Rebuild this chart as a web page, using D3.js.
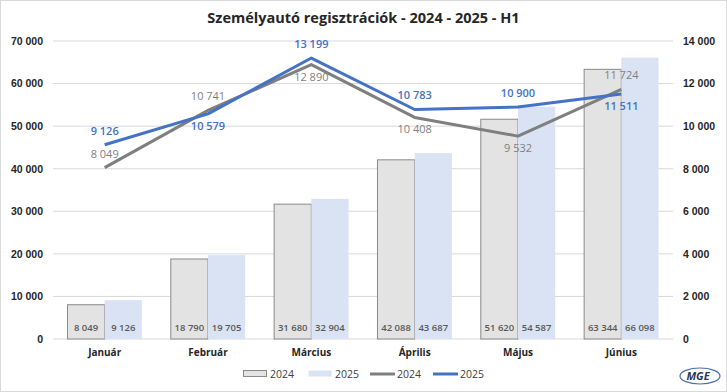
<!DOCTYPE html>
<html>
<head>
<meta charset="utf-8">
<script src="https://cdn.jsdelivr.net/npm/d3@7"></script>
<style>
  body { margin: 0; background: #fff; }
  svg { font-family: "Open Sans", "DejaVu Sans", sans-serif; }
</style>
</head>
<body>
<div id="viz"></div>
<script>
const months = ['Január', 'Február', 'Március', 'Április', 'Május', 'Június'];
const years = ['2024', '2025'];
const cum2024 = [8049, 18790, 31680, 42088, 51620, 63344];
const cum2025 = [9126, 19705, 32904, 43687, 54587, 66098];
const monthly2024 = [8049, 10741, 12890, 10408, 9532, 11724];
const monthly2025 = [9126, 10579, 13199, 10783, 10900, 11511];
// which side the line labels sit on (-1 above, 1 below)
const labelPos2024 = [-1, -1, 1, 1, 1, -1];
const labelPos2025 = [-1, 1, -1, -1, -1, 1];
const leftTicks = [0, 10000, 20000, 30000, 40000, 50000, 60000, 70000];
const rightTicks = [0, 2000, 4000, 6000, 8000, 10000, 12000, 14000];

const width = 727, height = 392;
const margin = {top: 41, right: 54, bottom: 53, left: 53};
const fmt = v => d3.format(',')(v).replace(/,/g, ' ');

const svg = d3.select('#viz').append('svg')
    .attr('width', width)
    .attr('height', height);

svg.append('rect')
    .attr('x', 0.5).attr('y', 0.5)
    .attr('width', width - 1).attr('height', height - 1)
    .attr('fill', '#fff')
    .attr('stroke', '#d9d9d9');

let x = d3.scaleBand()
    .domain(months)
    .range([margin.left, width - margin.right])
    .paddingInner(0.28)
    .paddingOuter(0.14);

let xSub = d3.scaleBand()
    .domain(years)
    .range([0, x.bandwidth()]);

let yLeft = d3.scaleLinear()
    .domain([0, 70000])
    .range([height - margin.bottom, margin.top]);

let yRight = d3.scaleLinear()
    .domain([0, 14000])
    .range([height - margin.bottom, margin.top]);

// grid
svg.append('g')
    .selectAll('line').data(leftTicks)
    .enter().append('line')
    .attr('x1', margin.left).attr('x2', width - margin.right)
    .attr('y1', d => yLeft(d)).attr('y2', d => yLeft(d))
    .attr('stroke', '#d9d9d9')
    .attr('stroke-width', 1);

// left axis
let leftAxis = svg.append('g')
    .attr('transform', `translate(${margin.left},0)`)
    .call(d3.axisLeft(yLeft).tickValues(leftTicks).tickFormat(fmt).tickSize(0).tickPadding(10));
leftAxis.select('.domain').remove();
leftAxis.selectAll('text')
    .style('font-size', '10.5px').style('font-weight', '600').attr('fill', '#262626');

// right axis
let rightAxis = svg.append('g')
    .attr('transform', `translate(${width - margin.right},0)`)
    .call(d3.axisRight(yRight).tickValues(rightTicks).tickFormat(fmt).tickSize(0).tickPadding(10));
rightAxis.select('.domain').remove();
rightAxis.selectAll('text')
    .style('font-size', '10.5px').style('font-weight', '600').attr('fill', '#262626');

// bars
const barData = months.map((m, i) => [
    {month: m, year: '2024', value: cum2024[i]},
    {month: m, year: '2025', value: cum2025[i]}
]).flat();

svg.append('g')
    .selectAll('rect').data(barData)
    .enter().append('rect')
    .attr('x', d => x(d.month) + xSub(d.year))
    .attr('y', d => yLeft(d.value))
    .attr('width', xSub.bandwidth())
    .attr('height', d => yLeft(0) - yLeft(d.value))
    .attr('fill', d => d.year === '2024' ? '#e3e3e3' : '#dae3f3')
    .attr('stroke', d => d.year === '2024' ? '#8a8a8a' : 'none')
    .attr('stroke-width', 1);

svg.append('g')
    .selectAll('text').data(barData)
    .enter().append('text')
    .attr('x', d => x(d.month) + xSub(d.year) + xSub.bandwidth() / 2)
    .attr('y', yLeft(0) - 8)
    .attr('text-anchor', 'middle')
    .style('font-size', '9.5px')
    .style('font-weight', '600')
    .attr('fill', '#595959')
    .text(d => fmt(d.value));

// x axis labels
svg.append('g')
    .selectAll('text').data(months)
    .enter().append('text')
    .attr('x', d => x(d) + x.bandwidth() / 2)
    .attr('y', yLeft(0) + 17)
    .attr('text-anchor', 'middle')
    .style('font-size', '10px')
    .style('font-weight', 'bold')
    .attr('fill', '#262626')
    .text(d => d);

// lines
const cx = m => x(m) + x.bandwidth() / 2;
const line = d3.line()
    .x((d, i) => cx(months[i]))
    .y(d => yRight(d));

const series = [
    {values: monthly2024, color: '#7f7f7f', pos: labelPos2024, weight: 'normal'},
    {values: monthly2025, color: '#4472c4', pos: labelPos2025, weight: '600'}
];

series.forEach(s => {
    svg.append('path')
        .datum(s.values)
        .attr('d', line)
        .attr('fill', 'none')
        .attr('stroke', s.color)
        .attr('stroke-width', 3)
        .attr('stroke-linejoin', 'round');

    svg.append('g')
        .selectAll('text').data(s.values)
        .enter().append('text')
        .attr('x', (d, i) => cx(months[i]))
        .attr('y', (d, i) => yRight(d) + (s.pos[i] < 0 ? -10 : 16))
        .attr('text-anchor', 'middle')
        .style('font-size', '11px')
        .style('font-weight', s.weight)
        .attr('fill', s.color)
        .text(d => fmt(d));
});

// title
svg.append('text')
    .attr('x', width / 2)
    .attr('y', 23)
    .attr('text-anchor', 'middle')
    .style('font-family', '"Liberation Sans Narrow", "Open Sans", sans-serif')
    .style('font-size', '14.5px')
    .style('font-weight', 'bold')
    .attr('fill', '#262626')
    .text('Személyautó regisztrációk - 2024 - 2025 - H1');

// legend
const legendItems = [
    {label: '2024', type: 'bar', fill: '#e3e3e3', stroke: '#8a8a8a', x: 243},
    {label: '2025', type: 'bar', fill: '#dae3f3', stroke: 'none', x: 308},
    {label: '2024', type: 'line', stroke: '#7f7f7f', x: 370},
    {label: '2025', type: 'line', stroke: '#4472c4', x: 433}
];
const ly = 374;
let legend = svg.append('g').selectAll('g').data(legendItems)
    .enter().append('g')
    .attr('transform', d => `translate(${d.x},${ly})`);

legend.filter(d => d.type === 'bar').append('rect')
    .attr('x', 0.5).attr('y', -3.5)
    .attr('width', 23).attr('height', 6)
    .attr('fill', d => d.fill)
    .attr('stroke', d => d.stroke);

legend.filter(d => d.type === 'line').append('line')
    .attr('x1', 0).attr('x2', 25)
    .attr('y1', 0).attr('y2', 0)
    .attr('stroke', d => d.stroke)
    .attr('stroke-width', 3);

legend.append('text')
    .attr('x', 27)
    .attr('y', 4)
    .style('font-size', '10.5px')
    .attr('fill', '#404040')
    .text(d => d.label);

// logo
let logo = svg.append('g').attr('transform', 'translate(700,376)');
logo.append('ellipse')
    .attr('rx', 20).attr('ry', 8)
    .attr('fill', 'none')
    .attr('stroke', '#4a6fa5')
    .attr('stroke-width', 1.2);
logo.append('text')
    .attr('x', -2).attr('y', 4)
    .attr('text-anchor', 'middle')
    .style('font-size', '11px')
    .style('font-weight', 'bold')
    .style('font-style', 'italic')
    .attr('fill', '#2b3a55')
    .text('MGE');
</script>
</body>
</html>
